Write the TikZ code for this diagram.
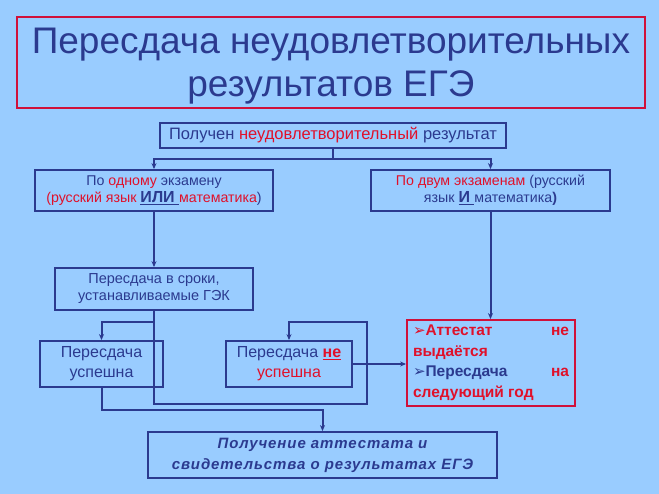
\documentclass[tikz,border=0pt]{standalone}
\usepackage{fontspec}
\setmainfont{Liberation Sans}
\newfontfamily\symf{DejaVu Sans}
\usetikzlibrary{arrows.meta}
\definecolor{bg}{HTML}{99CCFF}
\definecolor{navy}{HTML}{2B3A8F}
\definecolor{tred}{HTML}{E0102A}
\definecolor{bred}{HTML}{D0103A}
\newcommand{\rd}[1]{\textcolor{tred}{#1}}
\newcommand{\bul}{{\symf\fontsize{15}{15}\selectfont ➢}}
\begin{document}
\begin{tikzpicture}[x=1pt,y=-1pt,
  box/.style={draw=navy, line width=1.8pt, text=navy, align=center, inner sep=0pt},
  conn/.style={draw=navy, line width=2pt},
  arr/.style={conn, -{Stealth[length=6pt,width=5pt]}}]
\fill[bg] (0,0) rectangle (659,494);
\node[draw=bred, line width=1.8pt, minimum width=628pt, minimum height=91pt, inner sep=0pt] (titlebox) at (331,62.5) {};
\node[text=navy, font=\fontsize{37}{43}\selectfont, align=center, inner sep=0pt] (title) at (331,66)
  {Пересдача неудовлетворительных\\результатов ЕГЭ};
\node[box, minimum width=346pt, minimum height=25pt, font=\fontsize{16.5}{18}\selectfont] (top) at (333,135.5)
  {Получен \rd{неудовлетворительный} результат};
\node[box, minimum width=238pt, minimum height=41pt, font=\fontsize{14.2}{17}\selectfont] (left) at (154,190.5)
  {По \rd{одному} экзамену\\\rd{(русский язык }{\fontsize{16}{17}\selectfont\underline{\textbf{ИЛИ}\ }}\rd{математика})};
\node[box, minimum width=239pt, minimum height=41pt, font=\fontsize{14.2}{17}\selectfont] (right) at (490.5,190.5)
  {\rd{По двум экзаменам} (русский\\язык {\fontsize{16}{17}\selectfont\underline{\textbf{И}\ }}математика\textbf{)}};
\node[box, minimum width=198pt, minimum height=42pt, font=\fontsize{14.5}{17}\selectfont] (sroki) at (154,289)
  {Пересдача в сроки,\\устанавливаемые ГЭК};
\node[box, minimum width=123pt, minimum height=46pt, font=\fontsize{16}{20}\selectfont] (usp) at (101.5,364)
  {Пересдача\\успешна};
\node[box, minimum width=126pt, minimum height=46pt, font=\fontsize{16}{20}\selectfont] (ne) at (289,364)
  {Пересдача \rd{\underline{\textbf{не}}}\\\rd{успешна}};
\node[draw=bred, line width=1.8pt, minimum width=168pt, minimum height=86pt, inner sep=0pt,
  text=tred, align=left, font=\bfseries\fontsize{15.5}{20.5}\selectfont] (red) at (491,363)
  {\makebox[156pt][s]{\bul Аттестат\hfill не}\\
   выдаётся\\
   \makebox[156pt][s]{\textcolor{navy}{\bul Пересдача}\hfill на}\\
   следующий год};
\node[box, minimum width=349pt, minimum height=46pt, font=\bfseries\itshape\fontsize{15}{21}\selectfont] (final) at (322.5,455)
  {\addfontfeature{LetterSpace=6}Получение аттестата и\\\addfontfeature{LetterSpace=6}свидетельства о результатах ЕГЭ};
% connectors
\draw[conn] (top.south) -- ++(0,10) coordinate (j1);
\draw[arr] (j1) -| (left.north);
\draw[arr] (j1) -| (right.north);
\draw[arr] (left.south) -- (sroki.north);
\draw[arr] (right.south) -- (right.south |- red.north);
\coordinate (c1) at (367,404);
\coordinate (c2) at (367,322);
\coordinate (j3) at (154,322);
\coordinate (c3) at (322.5,410);
\draw[arr] (sroki.south) |- (c1) -- (c2) -| (ne.north);
\draw[arr] (j3) -| (usp.north);
\draw[arr] (usp.south) |- (c3) -- (final.north);
\draw[arr] (ne.east) -- (ne.east -| red.west);
\end{tikzpicture}
\end{document}
